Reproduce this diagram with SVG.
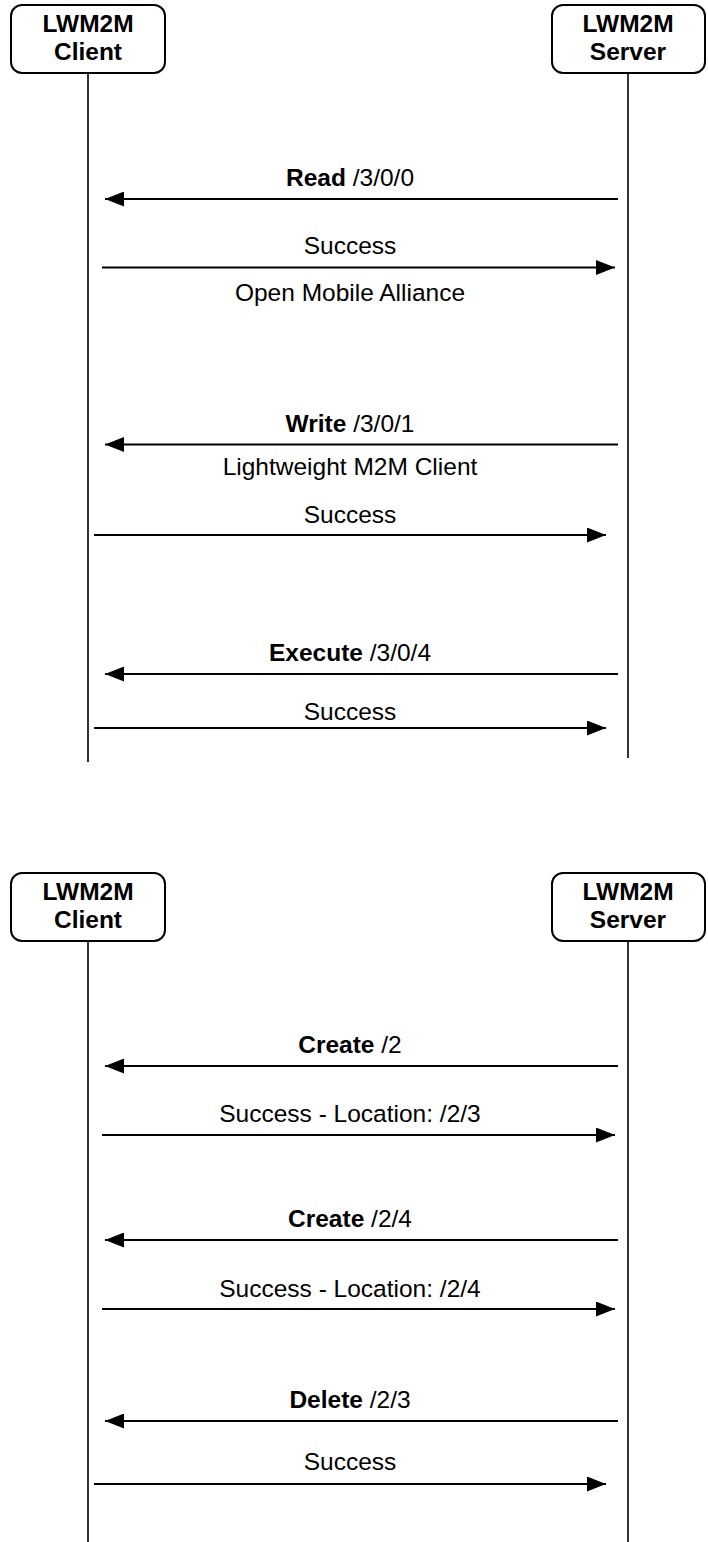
<svg xmlns="http://www.w3.org/2000/svg" width="708" height="1542" viewBox="0 0 708 1542">
<style>
.box{fill:#fff;stroke:#000;stroke-width:2}
.life{stroke:#000;stroke-width:1.6;fill:none}
.msg{stroke:#000;stroke-width:2.2;fill:none;marker-end:url(#ah)}
text{font-family:"Liberation Sans",Arial,Helvetica,sans-serif;font-size:24.5px;fill:#000;text-anchor:middle}
.hd{font-weight:bold}
.b{font-weight:bold}
</style>
<defs>
<marker id="ah" viewBox="0 0 19 15" refX="19" refY="7.5" markerWidth="19" markerHeight="15" markerUnits="userSpaceOnUse" orient="auto">
<path d="M0,0 L19,7.5 L0,15 Z" fill="#000"/>
</marker>
</defs>
<rect width="708" height="1542" fill="#fff"/>
<g id="client1">
<rect class="box" x="11" y="5" width="154" height="68" rx="11"/>
<text class="hd" x="88" y="32">LWM2M</text>
<text class="hd" x="88" y="60">Client</text>
</g>
<g id="server1">
<rect class="box" x="552" y="5" width="153" height="68" rx="11"/>
<text class="hd" x="628" y="32">LWM2M</text>
<text class="hd" x="628" y="60">Server</text>
</g>
<g id="client2">
<rect class="box" x="11" y="873" width="154" height="68" rx="11"/>
<text class="hd" x="88" y="900">LWM2M</text>
<text class="hd" x="88" y="928">Client</text>
</g>
<g id="server2">
<rect class="box" x="552" y="873" width="153" height="68" rx="11"/>
<text class="hd" x="628" y="900">LWM2M</text>
<text class="hd" x="628" y="928">Server</text>
</g>
<g id="connectors">
<line class="life" x1="88" y1="73" x2="88" y2="762"/>
<line class="life" x1="628" y1="73" x2="628" y2="758"/>
<line class="life" x1="88" y1="941" x2="88" y2="1542"/>
<line class="life" x1="628" y1="941" x2="628" y2="1542"/>
<line class="msg" x1="618" y1="199" x2="105" y2="199"/>
<line class="msg" x1="102" y1="267.5" x2="615" y2="267.5"/>
<line class="msg" x1="618" y1="444.5" x2="105" y2="444.5"/>
<line class="msg" x1="94" y1="535" x2="606" y2="535"/>
<line class="msg" x1="618" y1="674" x2="105" y2="674"/>
<line class="msg" x1="94" y1="728" x2="606" y2="728"/>
<line class="msg" x1="618" y1="1066" x2="105" y2="1066"/>
<line class="msg" x1="102" y1="1135" x2="615" y2="1135"/>
<line class="msg" x1="618" y1="1240" x2="105" y2="1240"/>
<line class="msg" x1="102" y1="1309" x2="615" y2="1309"/>
<line class="msg" x1="618" y1="1421" x2="105" y2="1421"/>
<line class="msg" x1="94" y1="1484" x2="606" y2="1484"/>
</g>
<g id="labels">
<text x="350" y="186"><tspan class="b">Read</tspan> /3/0/0</text>
<text x="350" y="254">Success</text>
<text x="350" y="301">Open Mobile Alliance</text>
<text x="350" y="432"><tspan class="b">Write</tspan> /3/0/1</text>
<text x="350" y="475">Lightweight M2M Client</text>
<text x="350" y="523">Success</text>
<text x="350" y="661"><tspan class="b">Execute</tspan> /3/0/4</text>
<text x="350" y="720">Success</text>
<text x="350" y="1053"><tspan class="b">Create</tspan> /2</text>
<text x="350" y="1122">Success - Location: /2/3</text>
<text x="350" y="1227"><tspan class="b">Create</tspan> /2/4</text>
<text x="350" y="1297">Success - Location: /2/4</text>
<text x="350" y="1408"><tspan class="b">Delete</tspan> /2/3</text>
<text x="350" y="1470">Success</text>
</g>
</svg>
